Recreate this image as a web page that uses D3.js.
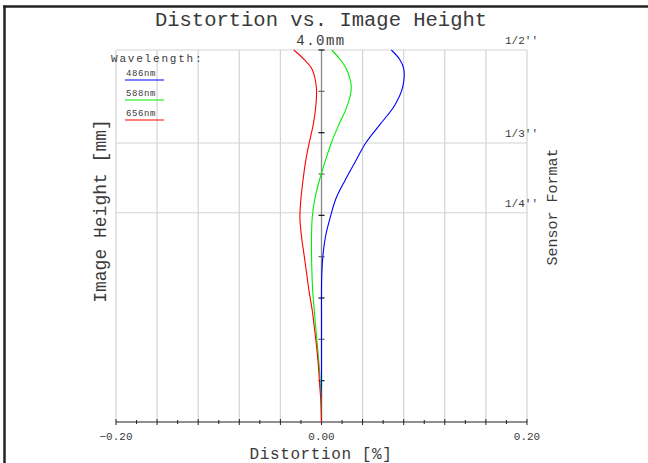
<!DOCTYPE html>
<html><head><meta charset="utf-8">
<script src="https://cdn.jsdelivr.net/npm/d3@7"></script>
<style>body{margin:0;background:#fff}svg{display:block}text{font-family:"Liberation Mono","DejaVu Sans Mono",monospace;fill:#3a3a3a}</style>
</head><body>
<svg id="c" width="648" height="463"></svg>
<script>
// Data
const imageHeight = [0, 0.2, 0.4, 0.6, 0.8, 1.0, 1.2, 1.4, 1.6, 1.8, 2.0, 2.2, 2.4, 2.6, 2.8, 3.0, 3.2, 3.4, 3.6, 3.8, 3.9, 4.0];
const dist486 = [0, 0, 0, 0, 0, 0, 0, 0, 0.0003, 0.0015, 0.004, 0.0085, 0.014, 0.023, 0.033, 0.043, 0.057, 0.071, 0.079, 0.080, 0.076, 0.068];
const dist588 = [0, -0.0003, -0.001, -0.0022, -0.0038, -0.0055, -0.007, -0.0085, -0.0093, -0.0097, -0.0097, -0.009, -0.0065, -0.002, 0.0035, 0.0095, 0.017, 0.025, 0.029, 0.024, 0.018, 0.010];
const dist656 = [0, -0.0005, -0.0018, -0.003, -0.0047, -0.0068, -0.009, -0.012, -0.0145, -0.017, -0.0195, -0.021, -0.020, -0.018, -0.0155, -0.012, -0.008, -0.0055, -0.005, -0.0095, -0.017, -0.027];
const wavelengths = ["486nm", "588nm", "656nm"];
const colors = ["#0000ff", "#00ee00", "#ff0000"];
const xTickLabels = [-0.20, 0.00, 0.20];
const sensorFormats = ["1/2''", "1/3''", "1/4''"];
const sensorHeights = [4.0, 3.0, 2.25];
const maxHeight = 4.0;

const svg = d3.select("#c");
const x = d3.scaleLinear().domain([-0.2, 0.2]).range([116, 527]);
const y = d3.scaleLinear().domain([0, maxHeight]).range([422, 50]);

// frame border
svg.append("line").attr("x1", 3).attr("x2", 648).attr("y1", 6.5).attr("y2", 6.5).attr("stroke", "#222").attr("stroke-width", 2.5);
svg.append("line").attr("x1", 4.5).attr("x2", 4.5).attr("y1", 6).attr("y2", 463).attr("stroke", "#222").attr("stroke-width", 2.5);

// vertical grid
const gridX = d3.range(-0.2, 0.2001, 0.04);
svg.append("g").selectAll("line").data(gridX.filter(v => Math.abs(v) > 1e-9)).join("line")
  .attr("x1", d => x(d)).attr("x2", d => x(d)).attr("y1", y(maxHeight)).attr("y2", y(0))
  .attr("stroke", "#d4d4d4").attr("stroke-width", 1.2);
// horizontal sensor lines
svg.append("g").selectAll("line").data(sensorHeights).join("line")
  .attr("x1", x(-0.2)).attr("x2", x(0.2)).attr("y1", d => y(d)).attr("y2", d => y(d))
  .attr("stroke", "#d4d4d4").attr("stroke-width", 1.2);
svg.append("g").selectAll("text").data(sensorFormats).join("text")
  .attr("x", 538).attr("y", (d, i) => y(sensorHeights[i]) - 6)
  .attr("text-anchor", "end").attr("font-size", 11).text(d => d);

// bottom axis
svg.append("line").attr("x1", x(-0.2)).attr("x2", x(0.2)).attr("y1", y(0)).attr("y2", y(0)).attr("stroke", "#222").attr("stroke-width", 1.2);
const xt = d3.range(-0.2, 0.2001, 0.02);
svg.append("g").selectAll("line").data(xt).join("line")
  .attr("x1", d => x(d)).attr("x2", d => x(d))
  .attr("y1", (d, i) => y(0) - (i % 2 === 0 ? 3 : 2)).attr("y2", (d, i) => y(0) + (i % 2 === 0 ? 3 : 2))
  .attr("stroke", "#222").attr("stroke-width", 1);
svg.append("g").selectAll("text").data(xTickLabels).join("text")
  .attr("x", d => x(d)).attr("y", 440).attr("text-anchor", "middle").attr("font-size", 11)
  .text(d => d3.format(".2f")(d));

// center axis
svg.append("line").attr("x1", x(0)).attr("x2", x(0)).attr("y1", y(maxHeight)).attr("y2", y(0)).attr("stroke", "#888").attr("stroke-width", 1.3);
const yt = d3.range(1, 10).map(i => i * maxHeight / 9);
svg.append("g").selectAll("line").data(yt).join("line")
  .attr("x1", d => x(0) - 3).attr("x2", d => x(0) + 3).attr("y1", d => y(d)).attr("y2", d => y(d))
  .attr("stroke", (d, i) => i % 2 === 1 ? "#666" : "#111").attr("stroke-width", 1.2);

// curves
const series = [dist486, dist588, dist656];
const line = d3.line().x(d => x(d[0])).y(d => y(d[1])).curve(d3.curveCatmullRom);
series.forEach((s, k) => {
  svg.append("path").datum(s.map((v, i) => [v, imageHeight[i]]))
    .attr("d", line).attr("fill", "none").attr("stroke", colors[k]).attr("stroke-width", 1.1);
});

// legend
svg.append("text").attr("x", 111).attr("y", 62).attr("font-size", 11).attr("letter-spacing", 1.8).text("Wavelength:");
wavelengths.forEach((w, i) => {
  const yy = 76 + i * 20;
  svg.append("text").attr("x", 126).attr("y", yy).attr("font-size", 9).attr("letter-spacing", 0.6).text(w);
  svg.append("line").attr("x1", 125).attr("x2", 164).attr("y1", yy + 4).attr("y2", yy + 4).attr("stroke", colors[i]).attr("stroke-width", 1.2);
});

// titles
svg.append("text").attr("x", 321).attr("y", 26).attr("text-anchor", "middle").attr("font-size", 20.5).text("Distortion vs. Image Height");
svg.append("text").attr("x", 321).attr("y", 45).attr("text-anchor", "middle").attr("font-size", 14).attr("letter-spacing", 1.5).text(maxHeight.toFixed(1) + "mm");
svg.append("text").attr("x", 321).attr("y", 458.5).attr("text-anchor", "middle").attr("font-size", 16).attr("letter-spacing", 0.6).text("Distortion [%]");
svg.append("text").attr("transform", "translate(106,211) rotate(-90)").attr("text-anchor", "middle").attr("font-size", 18).text("Image Height [mm]");
svg.append("text").attr("transform", "translate(557,207) rotate(-90)").attr("text-anchor", "middle").attr("font-size", 15).text("Sensor Format");
</script>
</body></html>
